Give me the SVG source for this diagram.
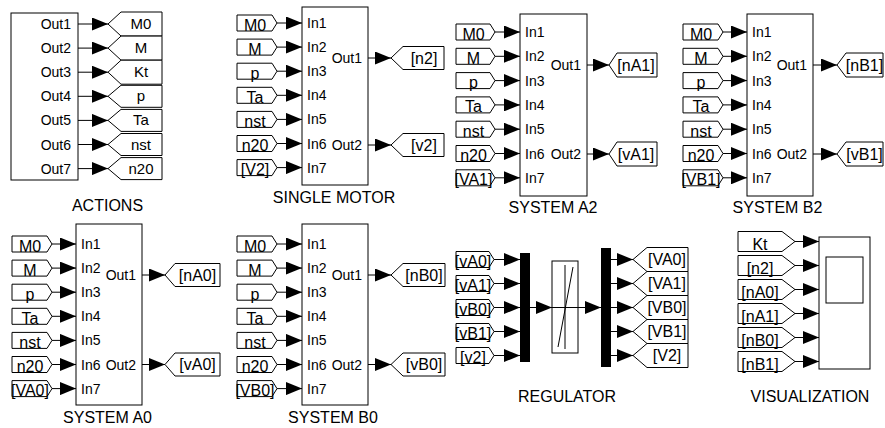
<svg xmlns="http://www.w3.org/2000/svg" width="885" height="428" viewBox="0 0 885 428">
<style>
.blk{fill:#fff;stroke:#000;stroke-width:1}
.tag{fill:#fff;stroke:#000;stroke-width:1}
.bar{fill:#000;stroke:none}
.ln{stroke:#000;stroke-width:1;fill:none}
.cn{stroke:#000;stroke-width:1;fill:none;marker-end:url(#ah)}
text{font-family:"Liberation Sans",Arial,sans-serif;fill:#000}
.p{font-size:14px}
.pe{font-size:14px;text-anchor:end}
.tg{font-size:16px;text-anchor:middle}
.ta{font-size:15px;text-anchor:middle}
.ti{font-size:16px;text-anchor:middle}
</style>
<defs>
<marker id="ah" markerUnits="userSpaceOnUse" markerWidth="16" markerHeight="13" refX="16" refY="6.5" orient="auto">
<path d="M0,0 L16,6.5 L0,13 z" fill="#000"/>
</marker>
</defs>
<rect width="885" height="428" fill="#fff"/>

<g id="connectors">
<path class="cn" d="M78,24H108"/><path class="cn" d="M78,48.1H108"/><path class="cn" d="M78,72.2H108"/><path class="cn" d="M78,96.3H108"/><path class="cn" d="M78,120.4H108"/><path class="cn" d="M78,144.5H108"/><path class="cn" d="M78,168.6H108"/>
<path class="cn" d="M277,23H302"/><path class="cn" d="M277,47.1H302"/><path class="cn" d="M277,71.2H302"/><path class="cn" d="M277,95.3H302"/><path class="cn" d="M277,119.4H302"/><path class="cn" d="M277,143.5H302"/><path class="cn" d="M277,167.6H302"/>
<path class="cn" d="M368,58H391"/><path class="cn" d="M368,145H391"/>
<path class="cn" d="M495,32H520"/><path class="cn" d="M495,56.3H520"/><path class="cn" d="M495,80.6H520"/><path class="cn" d="M495,104.9H520"/><path class="cn" d="M495,129.2H520"/><path class="cn" d="M495,153.5H520"/><path class="cn" d="M495,177.8H520"/>
<path class="cn" d="M587,65H609"/><path class="cn" d="M587,154H609"/>
<path class="cn" d="M723,32H747"/><path class="cn" d="M723,56.3H747"/><path class="cn" d="M723,80.6H747"/><path class="cn" d="M723,104.9H747"/><path class="cn" d="M723,129.2H747"/><path class="cn" d="M723,153.5H747"/><path class="cn" d="M723,177.8H747"/>
<path class="cn" d="M813,65H837"/><path class="cn" d="M813,154H837"/>
<path class="cn" d="M52,244H76"/><path class="cn" d="M52,268.1H76"/><path class="cn" d="M52,292.2H76"/><path class="cn" d="M52,316.3H76"/><path class="cn" d="M52,340.4H76"/><path class="cn" d="M52,364.5H76"/><path class="cn" d="M52,388.6H76"/>
<path class="cn" d="M142,275H165"/><path class="cn" d="M142,364.5H165"/>
<path class="cn" d="M277,244H302"/><path class="cn" d="M277,268.1H302"/><path class="cn" d="M277,292.2H302"/><path class="cn" d="M277,316.3H302"/><path class="cn" d="M277,340.4H302"/><path class="cn" d="M277,364.5H302"/><path class="cn" d="M277,388.6H302"/>
<path class="cn" d="M368,275H391"/><path class="cn" d="M368,364.5H391"/>
<path class="cn" d="M494,259.5H520"/><path class="cn" d="M494,283.5H520"/><path class="cn" d="M494,307.5H520"/><path class="cn" d="M494,331.5H520"/><path class="cn" d="M494,355.5H520"/>
<path class="cn" d="M530,307.5H552"/><path class="cn" d="M578,307.5H601"/>
<path class="cn" d="M611,259.5H633"/><path class="cn" d="M611,283.5H633"/><path class="cn" d="M611,307.5H633"/><path class="cn" d="M611,331.5H633"/><path class="cn" d="M611,355.5H633"/>
<path class="cn" d="M795,241.5H819"/><path class="cn" d="M795,265.5H819"/><path class="cn" d="M795,289.5H819"/><path class="cn" d="M795,313.5H819"/><path class="cn" d="M795,337.5H819"/><path class="cn" d="M795,361.5H819"/>
</g>

<g id="actions">
<rect class="blk" x="11" y="13" width="67" height="167"/>
<text class="pe" x="71" y="29">Out1</text><text class="pe" x="71" y="53.1">Out2</text><text class="pe" x="71" y="77.2">Out3</text><text class="pe" x="71" y="101.3">Out4</text><text class="pe" x="71" y="125.4">Out5</text><text class="pe" x="71" y="149.5">Out6</text><text class="pe" x="71" y="173.6">Out7</text>
<text class="ti" x="107.5" y="211">ACTIONS</text>
</g>
<g id="actions-tags">
<polygon class="tag" points="108,24 121,12 162,12 162,36 121,36"/><text class="ta" x="141" y="29">M0</text>
<polygon class="tag" points="108,48.1 121,36.1 162,36.1 162,60.1 121,60.1"/><text class="ta" x="141" y="53.1">M</text>
<polygon class="tag" points="108,72.2 121,60.2 162,60.2 162,84.2 121,84.2"/><text class="ta" x="141" y="77.2">Kt</text>
<polygon class="tag" points="108,96.3 121,85.3 162,85.3 162,107.3 121,107.3"/><text class="ta" x="141" y="101.3">p</text>
<polygon class="tag" points="108,120.4 121,109.4 162,109.4 162,131.4 121,131.4"/><text class="ta" x="141" y="125.4">Ta</text>
<polygon class="tag" points="108,144.5 121,133.5 162,133.5 162,155.5 121,155.5"/><text class="ta" x="141" y="149.5">nst</text>
<polygon class="tag" points="108,168.6 121,157.6 162,157.6 162,179.6 121,179.6"/><text class="ta" x="141" y="173.6">n20</text>
</g>

<g id="single-motor">
<rect class="blk" x="302" y="7" width="66" height="178"/>
<text class="p" x="307" y="28">In1</text><text class="p" x="307" y="52.1">In2</text><text class="p" x="307" y="76.2">In3</text><text class="p" x="307" y="100.3">In4</text><text class="p" x="307" y="124.4">In5</text><text class="p" x="307" y="148.5">In6</text><text class="p" x="307" y="172.6">In7</text>
<text class="pe" x="362" y="63">Out1</text><text class="pe" x="362" y="150">Out2</text>
<text class="ti" x="334" y="203">SINGLE MOTOR</text>
</g>
<g id="single-motor-tags">
<polygon class="tag" points="237,15 272,15 277,23 272,31 237,31"/><text class="tg" x="255" y="30.5">M0</text>
<polygon class="tag" points="237,39.1 272,39.1 277,47.1 272,55.1 237,55.1"/><text class="tg" x="255" y="54.6">M</text>
<polygon class="tag" points="237,63.2 272,63.2 277,71.2 272,79.2 237,79.2"/><text class="tg" x="255" y="78.7">p</text>
<polygon class="tag" points="237,87.3 272,87.3 277,95.3 272,103.3 237,103.3"/><text class="tg" x="255" y="102.8">Ta</text>
<polygon class="tag" points="237,111.4 272,111.4 277,119.4 272,127.4 237,127.4"/><text class="tg" x="255" y="126.9">nst</text>
<polygon class="tag" points="237,135.5 272,135.5 277,143.5 272,151.5 237,151.5"/><text class="tg" x="255" y="151">n20</text>
<polygon class="tag" points="237,159.6 272,159.6 277,167.6 272,175.6 237,175.6"/><text class="tg" x="255" y="175.1">[V2]</text>
<polygon class="tag" points="391,58 403,46.5 444,46.5 444,69.5 403,69.5"/><text class="tg" x="424" y="63.5">[n2]</text>
<polygon class="tag" points="391,145 403,133.5 444,133.5 444,156.5 403,156.5"/><text class="tg" x="424" y="150.5">[v2]</text>
</g>

<g id="system-a2">
<rect class="blk" x="520" y="14" width="67" height="182"/>
<text class="p" x="525" y="37">In1</text><text class="p" x="525" y="61.3">In2</text><text class="p" x="525" y="85.6">In3</text><text class="p" x="525" y="109.9">In4</text><text class="p" x="525" y="134.2">In5</text><text class="p" x="525" y="158.5">In6</text><text class="p" x="525" y="182.8">In7</text>
<text class="pe" x="581" y="70">Out1</text><text class="pe" x="581" y="159">Out2</text>
<text class="ti" x="553" y="213">SYSTEM A2</text>
</g>
<g id="system-a2-tags">
<polygon class="tag" points="456,24 490,24 495,32 490,40 456,40"/><text class="tg" x="473.5" y="39.5">M0</text>
<polygon class="tag" points="456,48.3 490,48.3 495,56.3 490,64.3 456,64.3"/><text class="tg" x="473.5" y="63.8">M</text>
<polygon class="tag" points="456,72.6 490,72.6 495,80.6 490,88.6 456,88.6"/><text class="tg" x="473.5" y="88.1">p</text>
<polygon class="tag" points="456,96.9 490,96.9 495,104.9 490,112.9 456,112.9"/><text class="tg" x="473.5" y="112.4">Ta</text>
<polygon class="tag" points="456,121.2 490,121.2 495,129.2 490,137.2 456,137.2"/><text class="tg" x="473.5" y="136.7">nst</text>
<polygon class="tag" points="456,145.5 490,145.5 495,153.5 490,161.5 456,161.5"/><text class="tg" x="473.5" y="161">n20</text>
<polygon class="tag" points="456,169.8 490,169.8 495,177.8 490,185.8 456,185.8"/><text class="tg" x="473.5" y="185.3">[VA1]</text>
<polygon class="tag" points="609,65 617,53 657,53 657,77 617,77"/><text class="tg" x="636" y="70.5">[nA1]</text>
<polygon class="tag" points="609,154 617,142 657,142 657,166 617,166"/><text class="tg" x="636" y="159.5">[vA1]</text>
</g>

<g id="system-b2">
<rect class="blk" x="747" y="14" width="66" height="182"/>
<text class="p" x="752" y="37">In1</text><text class="p" x="752" y="61.3">In2</text><text class="p" x="752" y="85.6">In3</text><text class="p" x="752" y="109.9">In4</text><text class="p" x="752" y="134.2">In5</text><text class="p" x="752" y="158.5">In6</text><text class="p" x="752" y="182.8">In7</text>
<text class="pe" x="807" y="70">Out1</text><text class="pe" x="807" y="159">Out2</text>
<text class="ti" x="777.5" y="213">SYSTEM B2</text>
</g>
<g id="system-b2-tags">
<polygon class="tag" points="683,24 718,24 723,32 718,40 683,40"/><text class="tg" x="701" y="39.5">M0</text>
<polygon class="tag" points="683,48.3 718,48.3 723,56.3 718,64.3 683,64.3"/><text class="tg" x="701" y="63.8">M</text>
<polygon class="tag" points="683,72.6 718,72.6 723,80.6 718,88.6 683,88.6"/><text class="tg" x="701" y="88.1">p</text>
<polygon class="tag" points="683,96.9 718,96.9 723,104.9 718,112.9 683,112.9"/><text class="tg" x="701" y="112.4">Ta</text>
<polygon class="tag" points="683,121.2 718,121.2 723,129.2 718,137.2 683,137.2"/><text class="tg" x="701" y="136.7">nst</text>
<polygon class="tag" points="683,145.5 718,145.5 723,153.5 718,161.5 683,161.5"/><text class="tg" x="701" y="161">n20</text>
<polygon class="tag" points="683,169.8 718,169.8 723,177.8 718,185.8 683,185.8"/><text class="tg" x="701" y="185.3">[VB1]</text>
<polygon class="tag" points="837,65 846,53 883,53 883,77 846,77"/><text class="tg" x="864.5" y="70.5">[nB1]</text>
<polygon class="tag" points="837,154 846,142 883,142 883,166 846,166"/><text class="tg" x="864.5" y="159.5">[vB1]</text>
</g>

<g id="system-a0">
<rect class="blk" x="76" y="224" width="66" height="181"/>
<text class="p" x="81" y="249">In1</text><text class="p" x="81" y="273.1">In2</text><text class="p" x="81" y="297.2">In3</text><text class="p" x="81" y="321.3">In4</text><text class="p" x="81" y="345.4">In5</text><text class="p" x="81" y="369.5">In6</text><text class="p" x="81" y="393.6">In7</text>
<text class="pe" x="136" y="280">Out1</text><text class="pe" x="136" y="369.5">Out2</text>
<text class="ti" x="107.5" y="423">SYSTEM A0</text>
</g>
<g id="system-a0-tags">
<polygon class="tag" points="12,236 47,236 52,244 47,252 12,252"/><text class="tg" x="30" y="251.5">M0</text>
<polygon class="tag" points="12,260.1 47,260.1 52,268.1 47,276.1 12,276.1"/><text class="tg" x="30" y="275.6">M</text>
<polygon class="tag" points="12,284.2 47,284.2 52,292.2 47,300.2 12,300.2"/><text class="tg" x="30" y="299.7">p</text>
<polygon class="tag" points="12,308.3 47,308.3 52,316.3 47,324.3 12,324.3"/><text class="tg" x="30" y="323.8">Ta</text>
<polygon class="tag" points="12,332.4 47,332.4 52,340.4 47,348.4 12,348.4"/><text class="tg" x="30" y="347.9">nst</text>
<polygon class="tag" points="12,356.5 47,356.5 52,364.5 47,372.5 12,372.5"/><text class="tg" x="30" y="372">n20</text>
<polygon class="tag" points="12,380.6 47,380.6 52,388.6 47,396.6 12,396.6"/><text class="tg" x="30" y="396.1">[VA0]</text>
<polygon class="tag" points="165,275 175,263.5 220,263.5 220,286.5 175,286.5"/><text class="tg" x="197.5" y="280.5">[nA0]</text>
<polygon class="tag" points="165,364.5 175,353 220,353 220,376 175,376"/><text class="tg" x="197.5" y="370">[vA0]</text>
</g>

<g id="system-b0">
<rect class="blk" x="302" y="224" width="66" height="181"/>
<text class="p" x="307" y="249">In1</text><text class="p" x="307" y="273.1">In2</text><text class="p" x="307" y="297.2">In3</text><text class="p" x="307" y="321.3">In4</text><text class="p" x="307" y="345.4">In5</text><text class="p" x="307" y="369.5">In6</text><text class="p" x="307" y="393.6">In7</text>
<text class="pe" x="362" y="280">Out1</text><text class="pe" x="362" y="369.5">Out2</text>
<text class="ti" x="333" y="423">SYSTEM B0</text>
</g>
<g id="system-b0-tags">
<polygon class="tag" points="237,236 272,236 277,244 272,252 237,252"/><text class="tg" x="255" y="251.5">M0</text>
<polygon class="tag" points="237,260.1 272,260.1 277,268.1 272,276.1 237,276.1"/><text class="tg" x="255" y="275.6">M</text>
<polygon class="tag" points="237,284.2 272,284.2 277,292.2 272,300.2 237,300.2"/><text class="tg" x="255" y="299.7">p</text>
<polygon class="tag" points="237,308.3 272,308.3 277,316.3 272,324.3 237,324.3"/><text class="tg" x="255" y="323.8">Ta</text>
<polygon class="tag" points="237,332.4 272,332.4 277,340.4 272,348.4 237,348.4"/><text class="tg" x="255" y="347.9">nst</text>
<polygon class="tag" points="237,356.5 272,356.5 277,364.5 272,372.5 237,372.5"/><text class="tg" x="255" y="372">n20</text>
<polygon class="tag" points="237,380.6 272,380.6 277,388.6 272,396.6 237,396.6"/><text class="tg" x="255" y="396.1">[VB0]</text>
<polygon class="tag" points="391,275 403,263.5 445,263.5 445,286.5 403,286.5"/><text class="tg" x="424" y="280.5">[nB0]</text>
<polygon class="tag" points="391,364.5 403,353 445,353 445,376 403,376"/><text class="tg" x="424" y="370">[vB0]</text>
</g>

<g id="regulator">
<rect class="bar" x="520" y="253" width="10" height="109"/>
<rect class="blk" x="552" y="261" width="26" height="92"/>
<path class="ln" d="M552,307.5H578M565,265V349M558,347L573,267"/>
<rect class="bar" x="601" y="248" width="10" height="119"/>
<text class="ti" x="567" y="402">REGULATOR</text>
</g>
<g id="regulator-tags">
<polygon class="tag" points="456,251.5 489,251.5 494,259.5 489,267.5 456,267.5"/><text class="tg" x="473" y="267">[vA0]</text>
<polygon class="tag" points="456,275.5 489,275.5 494,283.5 489,291.5 456,291.5"/><text class="tg" x="473" y="291">[vA1]</text>
<polygon class="tag" points="456,299.5 489,299.5 494,307.5 489,315.5 456,315.5"/><text class="tg" x="473" y="315">[vB0]</text>
<polygon class="tag" points="456,323.5 489,323.5 494,331.5 489,339.5 456,339.5"/><text class="tg" x="473" y="339">[vB1]</text>
<polygon class="tag" points="456,347.5 489,347.5 494,355.5 489,363.5 456,363.5"/><text class="tg" x="473" y="363">[v2]</text>
<polygon class="tag" points="633,259.5 647,247.5 688,247.5 688,271.5 647,271.5"/><text class="tg" x="667" y="265">[VA0]</text>
<polygon class="tag" points="633,283.5 647,271.5 688,271.5 688,295.5 647,295.5"/><text class="tg" x="667" y="289">[VA1]</text>
<polygon class="tag" points="633,307.5 647,295.5 688,295.5 688,319.5 647,319.5"/><text class="tg" x="667" y="313">[VB0]</text>
<polygon class="tag" points="633,331.5 647,319.5 688,319.5 688,343.5 647,343.5"/><text class="tg" x="667" y="337">[VB1]</text>
<polygon class="tag" points="633,355.5 647,343.5 688,343.5 688,367.5 647,367.5"/><text class="tg" x="667" y="361">[V2]</text>
</g>

<g id="visualization">
<rect class="blk" x="819" y="237" width="51" height="132"/>
<rect class="blk" x="826" y="257" width="37" height="46"/>
<text class="ti" x="810" y="402">VISUALIZATION</text>
</g>
<g id="visualization-tags">
<polygon class="tag" points="738,231.5 782,231.5 795,241.5 782,251.5 738,251.5"/><text class="tg" x="760" y="250">Kt</text>
<polygon class="tag" points="738,255.5 782,255.5 795,265.5 782,275.5 738,275.5"/><text class="tg" x="760" y="274">[n2]</text>
<polygon class="tag" points="738,279.5 782,279.5 795,289.5 782,299.5 738,299.5"/><text class="tg" x="760" y="298">[nA0]</text>
<polygon class="tag" points="738,303.5 782,303.5 795,313.5 782,323.5 738,323.5"/><text class="tg" x="760" y="322">[nA1]</text>
<polygon class="tag" points="738,327.5 782,327.5 795,337.5 782,347.5 738,347.5"/><text class="tg" x="760" y="346">[nB0]</text>
<polygon class="tag" points="738,351.5 782,351.5 795,361.5 782,371.5 738,371.5"/><text class="tg" x="760" y="370">[nB1]</text>
</g>
</svg>
